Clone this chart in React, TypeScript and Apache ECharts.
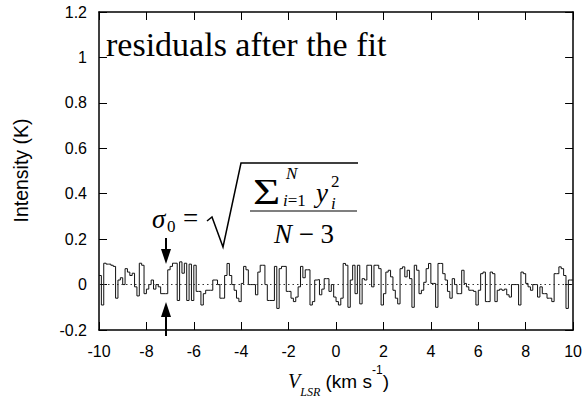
import React, { useEffect, useRef } from "react";
import * as echarts from "echarts";

// Spectral grid (km/s)
const V_START = -10;
const V_END = 10;
const CHANNEL_WIDTH = 0.1;

// Residual intensities (K), one per channel
const residualsA = [
  0.04, -0.09, 0.094, 0.09, 0.09, 0.085, 0.08, -0.06, 0.02, 0.03,
  0.0, 0.07, 0.055, 0.04, 0.05, -0.01, -0.05, 0.094, 0.085, -0.04,
  -0.02, 0.0, 0.02, -0.02, 0.0, -0.01, -0.04, -0.04, -0.04, 0.065,
  0.08, 0.094, 0.094, -0.07, 0.1, 0.05, 0.094, -0.07, 0.09, -0.07,
];
const residualsB = [
  0.085, -0.03, -0.03, -0.09, -0.04, -0.025, -0.025, -0.025, 0.02, 0.02,
  0.0, -0.06, -0.06, 0.04, 0.093, 0.04, 0.0, -0.025, -0.06, -0.075,
  0.005, 0.08, 0.065, 0.0, 0.0, 0.0, -0.045, 0.055, 0.085, 0.085,
  0.0, -0.07, -0.07, -0.07, 0.08, -0.105, 0.07, 0.08, 0.08, -0.03,
];
const residualsC = [
  -0.03, -0.06, -0.075, -0.055, -0.01, 0.08, 0.03, 0.065, 0.065, -0.09,
  -0.075, 0.02, 0.022, -0.045, -0.02, 0.026, 0.026, -0.03, 0.0, -0.055,
  -0.075, -0.09, -0.06, 0.093, 0.085, -0.1, 0.02, 0.085, -0.04, 0.085,
  -0.085, 0.026, 0.02, 0.085, 0.085, -0.01, 0.085, 0.085, 0.07, -0.09,
];
const residualsD = [
  -0.04, 0.055, 0.063, 0.034, -0.025, -0.06, -0.085, 0.07, 0.078, 0.034,
  0.063, 0.026, -0.1, 0.085, 0.063, -0.04, -0.025, 0.01, 0.07, 0.093,
  0.005, 0.005, -0.1, 0.093, 0.093, 0.048, 0.02, -0.03, -0.06, 0.026,
  0.0, -0.04, -0.04, 0.063, 0.005, -0.01, -0.025, -0.025, -0.03, -0.09,
];
const residualsE = [
  -0.025, 0.048, 0.055, -0.075, -0.075, 0.055, 0.048, -0.075, -0.025, -0.02,
  -0.025, -0.02, -0.045, -0.055, 0.0, 0.0, 0.0, -0.09, 0.055, 0.048,
  0.005, -0.01, -0.025, 0.0, 0.0, -0.055, -0.01, -0.04, -0.04, -0.06,
  -0.06, -0.075, 0.048, 0.048, 0.078, 0.07, 0.04, -0.105, 0.02, 0.02,
];
const residuals = [...residualsA, ...residualsB, ...residualsC, ...residualsD, ...residualsE];

const X_MIN = -10, X_MAX = 10, X_INTERVAL = 2;
const Y_MIN = -0.2, Y_MAX = 1.2, Y_INTERVAL = 0.2;

const TITLE = "residuals after the fit";
const Y_NAME = "Intensity (K)";

const SANS = "'Liberation Sans', Arial, sans-serif";
const SERIF = "'Liberation Serif', 'Times New Roman', 'DejaVu Serif', serif";

export default function App() {
  const ref = useRef<HTMLDivElement>(null);
  useEffect(() => {
    if (!ref.current) return;
    document.body.style.margin = "0";
    const chart = echarts.init(ref.current, undefined, { renderer: "svg" });

    const stepData: [number, number][] = residuals.map((y, i) => [
      +(V_START + i * CHANNEL_WIDTH).toFixed(3),
      y,
    ]);
    stepData.push([V_END, residuals[residuals.length - 1]]);

    const axisLine = { show: true, onZero: false, lineStyle: { color: "#000", width: 1.5 } };
    const axisTick = { show: true, inside: true, length: 8, lineStyle: { color: "#000", width: 1 } };
    const label = { color: "#000", fontSize: 16, fontFamily: SANS };

    const txt = (x: number, y: number, text: string, font: string, align = "left", extra: any = {}, el: any = {}) => ({
      type: "text",
      x,
      y,
      z: 100,
      ...el,
      style: { text, font, fill: "#000", align, verticalAlign: "middle", ...extra },
    });

    const arrowHead = (x: number, tipY: number, dir: 1 | -1) => ({
      type: "polygon",
      z: 100,
      shape: { points: [[x, tipY], [x - 5, tipY - dir * 15], [x + 5, tipY - dir * 15]] },
      style: { fill: "#000" },
    });

    chart.setOption({
      animation: false,
      backgroundColor: "#fff",
      grid: { left: 99, right: 7, top: 12, bottom: 69, show: false },
      xAxis: [
        {
          type: "value", min: X_MIN, max: X_MAX, interval: X_INTERVAL, position: "bottom",
          axisLine, axisTick, splitLine: { show: false },
          axisLabel: { ...label, margin: 13 },
        },
        {
          type: "value", min: X_MIN, max: X_MAX, interval: X_INTERVAL, position: "top",
          axisLine, axisTick, splitLine: { show: false }, axisLabel: { show: false },
        },
      ],
      yAxis: [
        {
          type: "value", min: Y_MIN, max: Y_MAX, interval: Y_INTERVAL, position: "left",
          axisLine, axisTick, splitLine: { show: false },
          axisLabel: { ...label, margin: 12 },
        },
        {
          type: "value", min: Y_MIN, max: Y_MAX, interval: Y_INTERVAL, position: "right",
          axisLine, axisTick, splitLine: { show: false }, axisLabel: { show: false },
        },
      ],
      series: [
        {
          type: "line",
          step: "end",
          data: stepData,
          showSymbol: false,
          symbol: "none",
          lineStyle: { color: "#111", width: 1 },
          markLine: {
            silent: true,
            symbol: ["none", "none"],
            label: { show: false },
            lineStyle: { color: "#333", width: 1, type: [1.5, 3] },
            data: [{ yAxis: 0 }],
          },
        },
      ],
      graphic: [
        // y axis title
        {
          type: "text", x: 21, y: 170.5, rotation: Math.PI / 2, z: 100,
          style: { text: Y_NAME, font: `19.5px ${SANS}`, fill: "#000", align: "center", verticalAlign: "middle" },
        },
        // x axis title
        {
          type: "text", x: 338.5, y: 381, z: 100,
          style: {
            text: "{v|V}{s|LSR}{n| (km s}{p|-1}{n|)}",
            align: "center",
            verticalAlign: "middle",
            rich: {
              v: { font: `italic 20px ${SERIF}`, fill: "#000", lineHeight: 34, verticalAlign: "middle" },
              s: { font: `italic 12px ${SERIF}`, fill: "#000", lineHeight: 16, verticalAlign: "bottom" },
              n: { font: `19px ${SANS}`, fill: "#000", lineHeight: 34, verticalAlign: "middle" },
              p: { font: `12px ${SANS}`, fill: "#000", lineHeight: 10, verticalAlign: "top" },
            },
          },
        },
        // title
        txt(106, 44, TITLE, `34px ${SERIF}`),
        // formula
        txt(152, 219, "\u03c3", `italic 27px ${SERIF}`),
        txt(167, 226, "0", `17px ${SERIF}`),
        txt(183, 218, "=", `27px ${SERIF}`),
        {
          type: "polyline", z: 100,
          shape: { points: [[207, 221], [212, 217], [223, 247], [241, 163], [358, 163]] },
          style: { stroke: "#000", lineWidth: 1.5, fill: "none" },
        },
        txt(253, 191.5, "\u03a3", `36px ${SERIF}`, "left", {}, { scaleX: 1.3 }),
        txt(286, 173, "N", `italic 17px ${SERIF}`),
        txt(283, 200, "{i|i}{n|=1}", `16px ${SERIF}`, "left", {
          rich: {
            i: { font: `italic 17px ${SERIF}`, fill: "#000" },
            n: { font: `17px ${SERIF}`, fill: "#000" },
          },
        }),
        txt(316, 193, "y", `italic 27px ${SERIF}`),
        txt(331, 181, "2", `17px ${SERIF}`),
        txt(331, 203, "i", `italic 17px ${SERIF}`),
        {
          type: "line", z: 100,
          shape: { x1: 250, y1: 211, x2: 357, y2: 211 },
          style: { stroke: "#000", lineWidth: 1.2 },
        },
        txt(304, 234, "{i|N}{n| \u2212 3}", `27px ${SERIF}`, "center", {
          rich: {
            i: { font: `italic 27px ${SERIF}`, fill: "#000" },
            n: { font: `27px ${SERIF}`, fill: "#000" },
          },
        }),
        // arrows
        {
          type: "line", z: 100,
          shape: { x1: 166, y1: 238, x2: 166, y2: 252 },
          style: { stroke: "#000", lineWidth: 2 },
        },
        arrowHead(166, 264, 1),
        {
          type: "line", z: 100,
          shape: { x1: 166, y1: 336, x2: 166, y2: 314 },
          style: { stroke: "#000", lineWidth: 2 },
        },
        arrowHead(166, 302, -1),
      ],
    });
    return () => chart.dispose();
  }, []);
  return <div ref={ref} style={{ width: 585, height: 399 }} />;
}
